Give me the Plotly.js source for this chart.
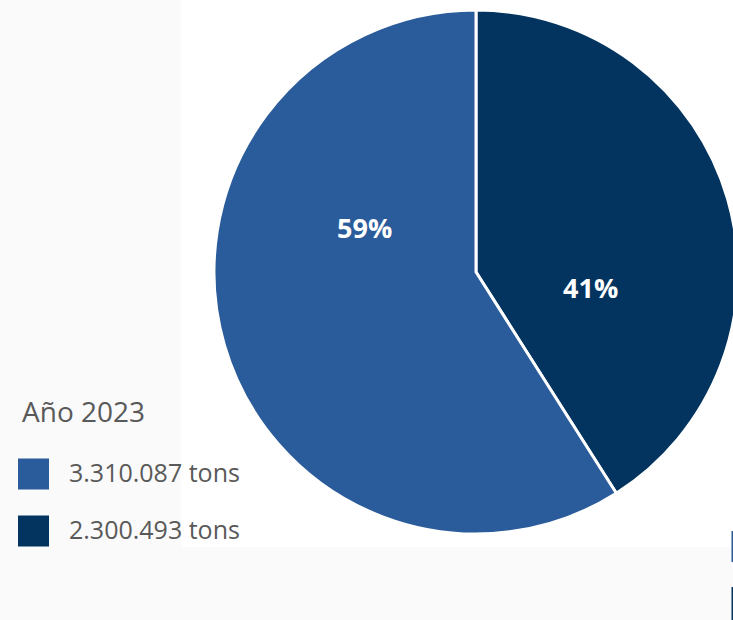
<!DOCTYPE html>
<html>
<head>
<meta charset="utf-8">
<script src="https://cdn.plot.ly/plotly-3.0.1.min.js"></script>
<style>
html,body{margin:0;padding:0;overflow:hidden;background:#fff;}
#chart{width:745px;height:620px;}
</style>
</head>
<body>
<div id="chart"></div>
<script>
const legendTitle = "Año 2023";
const categories = ["3.310.087 tons", "2.300.493 tons"];
const values = [3310087, 2300493];
const colors = ["#2a5b9a", "#03345f"];

const W = 745, H = 620;
const px = x => x / W;
const py = y => 1 - y / H;
const total = values.reduce((a, b) => a + b, 0);

// slices drawn clockwise from 12 o'clock: smaller share first (right side)
const pie = {
  type: "pie",
  labels: categories.slice().reverse(),
  values: values.slice().reverse(),
  sort: false,
  direction: "clockwise",
  rotation: 0,
  marker: {colors: colors.slice().reverse(), line: {color: "#ffffff", width: 3}},
  textinfo: "none",
  textposition: "none",
  hoverinfo: "label+percent",
  showlegend: false,
  domain: {x: [px(476 - 262), px(476 + 262)], y: [py(534), py(10)]}
};

const shapes = [
  {type: "rect", xref: "paper", yref: "paper", x0: 0, x1: px(181), y0: py(547), y1: 1,
   fillcolor: "#fafafa", line: {width: 0}, layer: "below"},
  {type: "rect", xref: "paper", yref: "paper", x0: 0, x1: 1, y0: 0, y1: py(547),
   fillcolor: "#fafafa", line: {width: 0}, layer: "below"},
  {type: "rect", xref: "paper", yref: "paper", x0: px(731.5), x1: px(734), y0: py(562), y1: py(531),
   fillcolor: colors[0], line: {width: 0}},
  {type: "rect", xref: "paper", yref: "paper", x0: px(731.5), x1: px(734), y0: py(620), y1: py(587),
   fillcolor: colors[1], line: {width: 0}}
];
const annotations = [
  {xref: "paper", yref: "paper", x: px(20), y: py(411), xanchor: "left", yanchor: "middle",
   text: legendTitle, showarrow: false, font: {family: "Open Sans", size: 28, color: "#595959"}}
];
const rowY = [474, 531];
const labelPos = [[364, 228], [590, 287]];
categories.forEach((c, i) => {
  shapes.push({type: "rect", xref: "paper", yref: "paper",
    x0: px(18), x1: px(49), y0: py(rowY[i] + 15.5), y1: py(rowY[i] - 15.5),
    fillcolor: colors[i], line: {width: 0}});
  annotations.push({xref: "paper", yref: "paper", x: px(67), y: py(rowY[i] - 2), xanchor: "left", yanchor: "middle",
    text: c, showarrow: false, font: {family: "Open Sans", size: 25, color: "#595959"}});
  annotations.push({xref: "paper", yref: "paper", x: px(labelPos[i][0]), y: py(labelPos[i][1]),
    xanchor: "center", yanchor: "middle", showarrow: false,
    text: Math.round(values[i] / total * 100) + "%",
    font: {family: "Open Sans", size: 27, color: "#ffffff", weight: "bold"}});
});

const layout = {
  width: W, height: H,
  margin: {l: 0, r: 0, t: 0, b: 0},
  paper_bgcolor: "#ffffff",
  showlegend: false,
  shapes: shapes,
  annotations: annotations
};
Plotly.newPlot("chart", [pie], layout, {displayModeBar: false, staticPlot: true});
</script>
</body>
</html>
